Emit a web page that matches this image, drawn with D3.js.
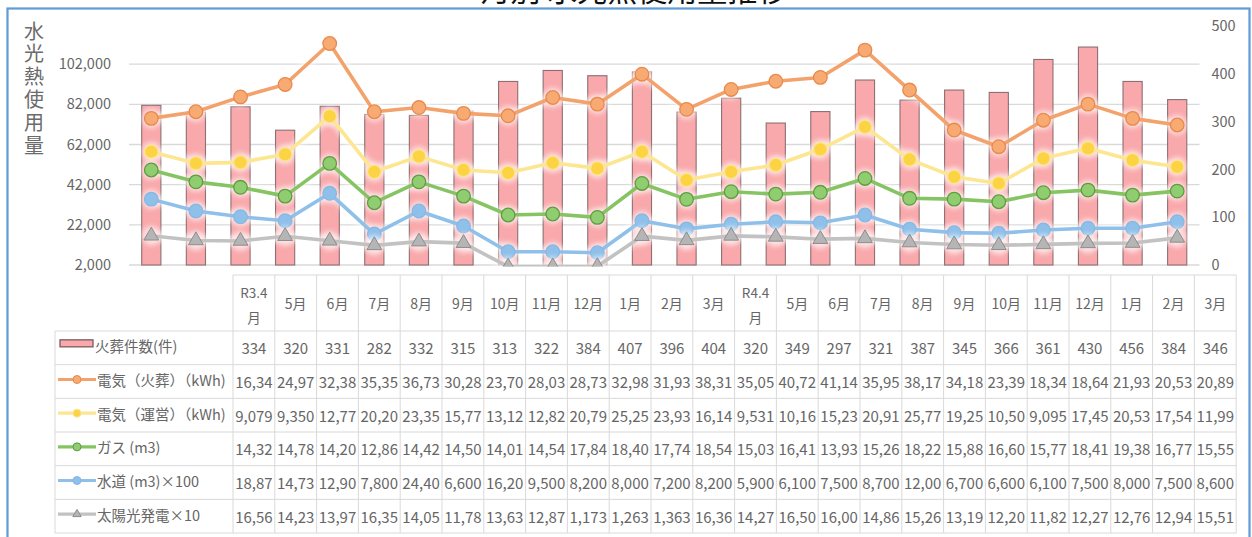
<!DOCTYPE html>
<html><head><meta charset="utf-8">
<script src="https://cdn.jsdelivr.net/npm/d3@7"></script>
<style>
body{margin:0;background:#fff;}
svg{display:block;font-family:"Noto Sans CJK JP","Noto Sans",sans-serif;}
</style>
</head><body>
<svg id="c" width="1252" height="537"></svg>
<script>
// ---------- data ----------
const months = ["R3.4月","5月","6月","7月","8月","9月","10月","11月","12月","1月","2月","3月",
                "R4.4月","5月","6月","7月","8月","9月","10月","11月","12月","1月","2月","3月"];
const cremations = [334,320,331,282,332,315,313,322,384,407,396,404,320,349,297,321,387,345,366,361,430,456,384,346];
const elecCremation = [75000,78300,85700,91900,112300,78300,80400,77500,76300,85400,82100,97000,
                       79500,89400,93500,95400,109000,89100,69200,60900,74100,82100,75000,71700];
const elecOps = [58400,52600,53100,57100,76100,48400,56100,49300,47900,52900,50100,58400,
                 44300,48400,51800,59600,70800,54600,45900,42600,55100,60100,54200,50900];
const gas = [49300,43400,40700,36300,52600,33000,43400,36300,26900,27400,25700,42600,
             34700,38500,37300,38200,45100,35200,34800,33500,38000,39300,36800,38800];
const water = [34800,28900,26000,24000,37700,17400,28900,21400,8600,8600,8100,24000,
               20000,22300,23500,23000,26900,19800,18100,17800,19400,20300,20300,23500];
const solar = [16560,14230,13970,16350,14050,11780,13630,12870,1173,1263,1363,16360,
               14270,16500,16000,14860,15260,13190,12200,11820,12270,12760,12940,15510];
const leftTicks = [2000,22000,42000,62000,82000,102000];
const rightTicks = [0,100,200,300,400,500];
const seriesNames = ["火葬件数(件)","電気（火葬）（kWh)","電気（運営）（kWh)","ガス (m3)","水道 (m3)×100","太陽光発電×10"];
const tableText = [
  ["334","320","331","282","332","315","313","322","384","407","396","404","320","349","297","321","387","345","366","361","430","456","384","346"],
  ["16,34","24,97","32,38","35,35","36,73","30,28","23,70","28,03","28,73","32,98","31,93","38,31","35,05","40,72","41,14","35,95","38,17","34,18","23,39","18,34","18,64","21,93","20,53","20,89"],
  ["9,079","9,350","12,77","20,20","23,35","15,77","13,12","12,82","20,79","25,25","23,93","16,14","9,531","10,16","15,23","20,91","25,77","19,25","10,50","9,095","17,45","20,53","17,54","11,99"],
  ["14,32","14,78","14,20","12,86","14,42","14,50","14,01","14,54","17,84","18,40","17,74","18,54","15,03","16,41","13,93","15,26","18,22","15,88","16,60","15,77","18,41","19,38","16,77","15,55"],
  ["18,87","14,73","12,90","7,800","24,40","6,600","16,20","9,500","8,200","8,000","7,200","8,200","5,900","6,100","7,500","8,700","12,00","6,700","6,600","6,100","7,500","8,000","7,500","8,600"],
  ["16,56","14,23","13,97","16,35","14,05","11,78","13,63","12,87","1,173","1,263","1,363","16,36","14,27","16,50","16,00","14,86","15,26","13,19","12,20","11,82","12,27","12,76","12,94","15,51"]
];
const yTitle = "水光熱使用量";
const chartTitle = "月別 水光熱使用量推移";

// ---------- styles ----------
const lineSeries = [
  {vals: elecCremation, line:"#f3a26c", fill:"#f7ab72", stroke:"#e8894d", shape:"circle"},
  {vals: elecOps,       line:"#fde690", fill:"#fcd443", stroke:"#fde39a", shape:"circle"},
  {vals: gas,           line:"#86c463", fill:"#90cd70", stroke:"#5e9d40", shape:"circle"},
  {vals: water,         line:"#8ec0ea", fill:"#8ec0ea", stroke:"#86b8e4", shape:"circle"},
  {vals: solar,         line:"#c2c2c2", fill:"#b5b5b5", stroke:"#8d8d8d", shape:"triangle"}
];
const barFill = "#f9a8ab", barStroke = "#8c6f72";
const textCol = "#666666", gridCol = "#d9d9d9";

const svg = d3.select("#c");
const P = {left:129, right:1199.5, top:24, bottom:265};

const defs = svg.append("defs");
defs.append("filter").attr("id","blur").attr("x","-30%").attr("y","-60%").attr("width","160%").attr("height","220%")
  .append("feGaussianBlur").attr("stdDeviation",2.6);
defs.append("clipPath").attr("id","clip").append("rect")
  .attr("x",P.left).attr("y",0).attr("width",P.right-P.left).attr("height",P.bottom+1.5);

// title (cut off at top, as in the source picture) and frame
svg.append("text").attr("x",634).attr("y",1).attr("text-anchor","middle")
  .attr("font-size",30).attr("fill","#111").text(chartTitle);
svg.append("rect").attr("x",7.5).attr("y",8.5).attr("width",1242).attr("height",540)
  .attr("fill","none").attr("stroke","#5f9bd6").attr("stroke-width",2.2);

const x = d3.scaleBand().domain(d3.range(months.length)).range([P.left,P.right])
  .paddingInner(0.57).paddingOuter(0.285);
const cx = i => x(i) + x.bandwidth()/2;
const yL = d3.scaleLinear().domain([2000,122000]).range([P.bottom,P.top]);
const yR = d3.scaleLinear().domain([0,500]).range([P.bottom,26]);

// gridlines
svg.append("g").selectAll("line").data(leftTicks).join("line")
  .attr("x1",P.left).attr("x2",P.right).attr("y1",d=>yL(d)).attr("y2",d=>yL(d))
  .attr("stroke",gridCol).attr("stroke-width",1.4);

// axes
const axL = svg.append("g").attr("transform",`translate(${P.left},0)`)
  .call(d3.axisLeft(yL).tickValues(leftTicks).tickFormat(d3.format(",")).tickSize(0).tickPadding(18));
const axR = svg.append("g").attr("transform",`translate(${P.right},0)`)
  .call(d3.axisRight(yR).tickValues(rightTicks).tickSize(0).tickPadding(12));
[axL,axR].forEach(a=>{
  a.select(".domain").remove();
  a.selectAll("text").attr("fill",textCol).attr("font-size",14.5)
   .attr("font-family",'"Noto Sans CJK JP",sans-serif');
});

// vertical y title (one text, vertical writing)
svg.append("text").attr("x",34).attr("y",21)
  .style("writing-mode","vertical-rl").style("letter-spacing","2.8px")
  .attr("font-size",20).attr("fill","#6b6b6b").text(yTitle);

// bars
svg.append("g").selectAll("rect").data(cremations).join("rect")
  .attr("x",(d,i)=>x(i)).attr("width",x.bandwidth())
  .attr("y",d=>yR(d)).attr("height",d=>P.bottom-yR(d))
  .attr("fill",barFill).attr("stroke",barStroke).attr("stroke-width",1.1);

// lines
const lg = svg.append("g").attr("clip-path","url(#clip)");
const tri = d3.symbol().type(d3.symbolTriangle).size(95);
lineSeries.forEach(s=>{
  const gen = d3.line().x((d,i)=>cx(i)).y(d=>yL(d));
  const g = lg.append("g");
  g.append("path").attr("d",gen(s.vals)).attr("fill","none").attr("stroke","#fff")
    .attr("stroke-width",9).attr("opacity",0.55).attr("filter","url(#blur)");
  g.selectAll(".halo").data(s.vals).join("circle").attr("class","halo")
    .attr("cx",(d,i)=>cx(i)).attr("cy",d=>yL(d)).attr("r",10).attr("fill","#fff")
    .attr("opacity",0.6).attr("filter","url(#blur)");
  g.append("path").attr("d",gen(s.vals)).attr("fill","none").attr("stroke",s.line)
    .attr("stroke-width",3.6).attr("stroke-linejoin","round");
  if (s.shape==="circle") {
    g.selectAll(".m").data(s.vals).join("circle").attr("class","m")
      .attr("cx",(d,i)=>cx(i)).attr("cy",d=>yL(d)).attr("r",6.8)
      .attr("fill",s.fill).attr("stroke",s.stroke).attr("stroke-width",1.3);
  } else {
    g.selectAll(".m").data(s.vals).join("path").attr("class","m")
      .attr("transform",(d,i)=>`translate(${cx(i)},${yL(d)})`).attr("d",tri)
      .attr("fill",s.fill).attr("stroke",s.stroke).attr("stroke-width",1);
  }
});

// ---------- data table ----------
const T = {x0:233, colW:41.8, hTop:275, hBot:331, rowH:33.67, labelX:55};
const ncol = months.length, nrow = tableText.length;
const xEnd = T.x0 + ncol*T.colW;
const yBot = T.hBot + nrow*T.rowH;
const tg = svg.append("g");
tg.append("line").attr("x1",T.x0).attr("x2",xEnd).attr("y1",T.hTop).attr("y2",T.hTop).attr("stroke",gridCol);
tg.selectAll(".h").data(d3.range(nrow+1)).join("line").attr("class","h")
  .attr("x1",T.labelX).attr("x2",xEnd).attr("y1",r=>T.hBot+r*T.rowH).attr("y2",r=>T.hBot+r*T.rowH)
  .attr("stroke",gridCol);
tg.selectAll(".v").data(d3.range(ncol+1)).join("line").attr("class","v")
  .attr("x1",c=>T.x0+c*T.colW).attr("x2",c=>T.x0+c*T.colW).attr("y1",T.hTop).attr("y2",yBot)
  .attr("stroke",gridCol);
tg.append("line").attr("x1",T.labelX).attr("x2",T.labelX).attr("y1",T.hBot).attr("y2",yBot).attr("stroke",gridCol);

// header
months.forEach((m,c)=>{
  const xc = T.x0 + (c+0.5)*T.colW;
  if (m.startsWith("R")) {
    const a = m.replace("月","");
    tg.append("text").attr("x",xc).attr("y",292).attr("text-anchor","middle").attr("dominant-baseline","central")
      .attr("font-size",13.5).attr("fill",textCol).text(a);
    tg.append("text").attr("x",xc).attr("y",317).attr("text-anchor","middle").attr("dominant-baseline","central")
      .attr("font-size",13.5).attr("fill",textCol).text("月");
  } else {
    tg.append("text").attr("x",xc).attr("y",303).attr("text-anchor","middle").attr("dominant-baseline","central")
      .attr("font-size",14).attr("fill",textCol).text(m);
  }
});
// cells
tableText.forEach((row,r)=>{
  const yc = T.hBot + (r+0.5)*T.rowH;
  tg.append("g").selectAll("text").data(row).join("text")
    .attr("x",(d,c)=>T.x0+(c+0.5)*T.colW).attr("y",yc).attr("text-anchor","middle")
    .attr("dominant-baseline","central").attr("font-size",15).attr("fill",textCol).text(d=>d);
});
// row labels with legend keys
seriesNames.forEach((name,r)=>{
  const yc = T.hBot + (r+0.5)*T.rowH - 2;
  if (r===0) {
    tg.append("rect").attr("x",60).attr("y",yc-6).attr("width",33).attr("height",7)
      .attr("fill",barFill).attr("stroke","#7a5c60").attr("stroke-width",1.3);
  } else {
    const s = lineSeries[r-1];
    tg.append("line").attr("x1",58).attr("x2",96).attr("y1",yc).attr("y2",yc)
      .attr("stroke",s.line).attr("stroke-width",3.2);
    if (s.shape==="circle") {
      tg.append("circle").attr("cx",77).attr("cy",yc).attr("r",4).attr("fill",s.fill).attr("stroke",s.stroke);
    } else {
      tg.append("path").attr("transform",`translate(77,${yc})`).attr("d",d3.symbol().type(d3.symbolTriangle).size(30))
        .attr("fill",s.fill).attr("stroke",s.stroke);
    }
  }
  tg.append("text").attr("x",r===0?95:97).attr("y",yc).attr("dominant-baseline","central")
    .attr("font-size",14.5).attr("fill",textCol).text(name);
});
</script>
</body></html>
